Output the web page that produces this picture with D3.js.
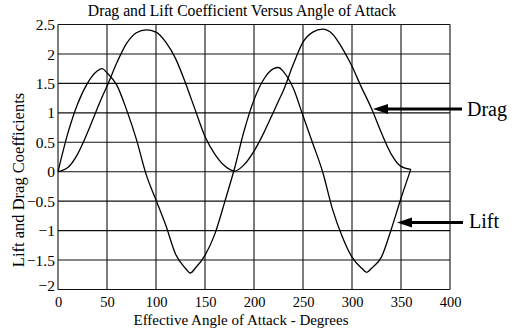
<!DOCTYPE html>
<html>
<head>
<meta charset="utf-8">
<script src="https://cdn.jsdelivr.net/npm/d3@7"></script>
<style>
  html, body { margin: 0; padding: 0; background: #fff; }
  svg { display: block; }
  text { font-family: "Liberation Serif", "Times New Roman", serif; fill: #000; }
</style>
</head>
<body>
<svg id="chart" width="523" height="332"></svg>
<script>
// ---- data ----
const angles = [0,10,20,30,40,45,50,60,70,80,90,100,110,120,130,135,140,150,160,170,180,
                190,200,210,220,225,230,240,250,260,270,280,290,300,310,315,320,330,340,350,360];
const lift = [0,0.65,1.15,1.5,1.71,1.75,1.68,1.47,1.05,0.55,-0.05,-0.48,-0.91,-1.4,-1.64,-1.72,-1.64,-1.42,-1.06,-0.52,0.05,
              0.7,1.22,1.57,1.75,1.77,1.7,1.42,0.95,0.48,0,-0.63,-1.1,-1.45,-1.64,-1.71,-1.64,-1.45,-0.98,-0.45,0.04];
const drag = [0,0.07,0.3,0.66,1.07,1.27,1.45,1.85,2.18,2.36,2.41,2.37,2.2,1.92,1.51,1.28,1.05,0.6,0.3,0.1,0.01,
              0.12,0.35,0.66,1.02,1.2,1.38,1.82,2.2,2.37,2.42,2.34,2.1,1.79,1.42,1.25,1.07,0.66,0.3,0.09,0.04];
const xTicks = [0,50,100,150,200,250,300,350,400];
const yTicks = [-2,-1.5,-1,-0.5,0,0.5,1,1.5,2,2.5];
const title = "Drag and Lift Coefficient Versus Angle of Attack";
const xTitle = "Effective Angle of Attack - Degrees";
const yTitle = "Lift and Drag Coefficients";
const seriesLabels = ["Drag", "Lift"];

// ---- layout ----
const svg = d3.select("#chart");
const x = d3.scaleLinear().domain([0, 400]).range([58, 450]);
const y = d3.scaleLinear().domain([-2, 2.5]).range([289.5, 24.5]);

const grid = svg.append("g");
grid.selectAll("line.v").data(xTicks).enter().append("line")
  .attr("x1", d => x(d)).attr("x2", d => x(d))
  .attr("y1", y(2.5)).attr("y2", y(-2))
  .attr("stroke", "#111").attr("stroke-width", 1.1);
grid.selectAll("line.h").data(yTicks).enter().append("line")
  .attr("y1", d => y(d)).attr("y2", d => y(d))
  .attr("x1", x(0)).attr("x2", x(400))
  .attr("stroke", "#111").attr("stroke-width", 1.1);

// axes labels
const xAxis = d3.axisBottom(x).tickValues(xTicks).tickSize(0).tickPadding(0).tickFormat(d3.format("d"));
const gx = svg.append("g").attr("transform", `translate(0,${y(-2)})`).call(xAxis);
gx.select(".domain").remove();
gx.selectAll("text").attr("font-size", 14.5).attr("font-family", "Liberation Serif").attr("dy", 0).attr("y", 17.5);

const yAxis = d3.axisLeft(y).tickValues(yTicks).tickSize(0).tickPadding(3).tickFormat(d => d3.format("")(d));
const gy = svg.append("g").attr("transform", `translate(${x(0)},0)`).call(yAxis);
gy.select(".domain").remove();
gy.selectAll("text").attr("font-size", 15.5).attr("font-family", "Liberation Serif").attr("dy", "0.33em");
gy.selectAll("text").filter(d => d === -2).attr("dy", "0.05em");

// lines
const pts = (vals) => angles.map((a, i) => [a, vals[i]]);
const line = d3.line().x(d => x(d[0])).y(d => y(d[1])).curve(d3.curveMonotoneX);
svg.append("path").attr("d", line(pts(drag))).attr("fill", "none").attr("stroke", "#000").attr("stroke-width", 1.3);
svg.append("path").attr("d", line(pts(lift))).attr("fill", "none").attr("stroke", "#000").attr("stroke-width", 1.3);

// titles
svg.append("text").attr("x", 242).attr("y", 16).attr("text-anchor", "middle")
  .attr("font-size", 15.7).text(title);
svg.append("text").attr("x", 241).attr("y", 324.5).attr("text-anchor", "middle")
  .attr("font-size", 15).text(xTitle);
svg.append("text").attr("transform", "translate(24,180) rotate(-90)").attr("text-anchor", "middle")
  .attr("font-size", 16.5).text(yTitle);

// annotation arrows
const arrows = [
  {label: seriesLabels[0], tip: [373, 109], tail: 462, tx: 467, ty: 116},
  {label: seriesLabels[1], tip: [397, 222.5], tail: 463, tx: 469, ty: 228}
];
arrows.forEach(a => {
  svg.append("line").attr("x1", a.tip[0] + 12).attr("x2", a.tail)
    .attr("y1", a.tip[1]).attr("y2", a.tip[1]).attr("stroke", "#000").attr("stroke-width", 3);
  svg.append("path").attr("d", `M${a.tip[0]},${a.tip[1]} L${a.tip[0] + 15},${a.tip[1] - 5} L${a.tip[0] + 15},${a.tip[1] + 5} Z`)
    .attr("fill", "#000");
  svg.append("text").attr("x", a.tx).attr("y", a.ty).attr("font-size", 20).text(a.label);
});
</script>
</body>
</html>
